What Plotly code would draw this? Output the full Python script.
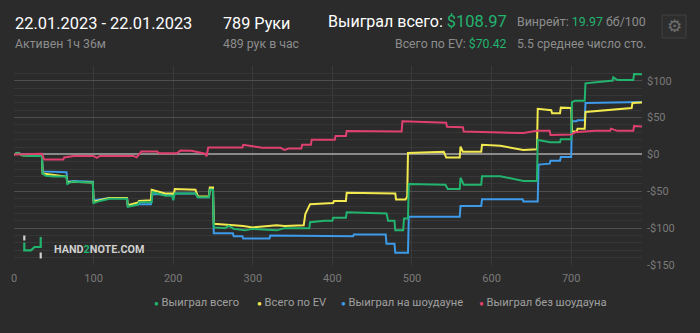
import plotly.graph_objects as go

# ---------------- data ----------------
hands_total = [0, 5, 10, 20, 35, 36, 40, 50, 66, 67, 73, 99, 100, 105, 120, 142, 143, 156, 157, 173,
               174, 190, 199, 200, 202, 228, 231, 245, 246, 250, 251, 265, 270, 276, 290, 300, 330, 340,
               371, 372, 390, 400, 401, 417, 418, 468, 470, 478, 479, 489, 490, 495, 496, 542, 545, 560,
               561, 565, 587, 588, 611, 640, 657, 658, 674, 686, 687, 700, 701, 705, 717, 718, 750, 752,
               753, 758, 778, 779, 789]
won_total = [0, 2, -1, -2, -2, -26, -29, -30, -30, -40, -37, -38, -66, -64, -60, -60, -71, -68, -65, -65,
             -51, -56, -56, -62, -53, -53, -58, -58, -48, -48, -99, -100, -97, -101, -103, -101, -103, -100,
             -100, -92, -90, -90, -86, -86, -78.5, -80, -90, -90, -103, -103, -87, -87, -40, -41, -47, -47,
             -31.6, -41, -41, -29.5, -29.5, -36, -36, 19.7, 16.5, 16.5, 20.6, 20.6, 71, 73, 73, 96.5, 100, 100,
             104.6, 101, 101, 109, 108.97]

hands_ev = [0, 5, 10, 35, 36, 66, 67, 73, 99, 100, 120, 142, 143, 156, 157, 172, 173, 190, 199, 200,
            202, 228, 231, 245, 246, 250, 251, 270, 276, 288, 300, 330, 340, 364, 366, 372, 401, 402, 417, 418,
            470, 479, 480, 492, 494, 495, 540, 543, 560, 561, 564, 587, 588, 611, 640, 657, 658, 675, 676, 686,
            687, 700, 701, 707, 708, 717, 718, 758, 776, 777, 789]
won_ev = [0, 2, -1, -2, -26, -30, -38, -37, -38, -64, -59, -59, -69, -65, -63, -62, -48, -53, -53, -58,
          -47, -48, -57, -57, -45, -45, -94, -95, -96, -97, -99, -96, -97, -96, -81, -67.5, -66, -63, -63, -52,
          -52, -53, -61, -61, -57, 2, 3.5, -4, -4, 10.7, 3.5, 3.5, 13, 11.7, 6, 7, 62, 60, 56, 56,
          63.5, 63, 31, 31, 35, 35, 57.6, 62, 63, 69.7, 70.42]

hands_sd = [0, 5, 10, 35, 36, 66, 67, 75, 99, 100, 120, 142, 143, 156, 172, 173, 199, 200, 201, 228,
            231, 245, 246, 250, 251, 275, 276, 287, 288, 321, 322, 367, 368, 426, 427, 467, 468, 478, 479, 495,
            496, 560, 561, 587, 588, 639, 640, 658, 659, 673, 674, 686, 687, 700, 701, 707, 708, 717, 718, 760,
            789]
won_sd = [0, 2, 0, 0, -23, -24, -37, -36, -37, -62, -59, -59, -70, -67.5, -67.5, -54, -54, -62, -53, -53,
          -58, -58, -47, -47, -107, -107, -111, -111, -114, -114, -110, -110, -111, -111, -108.5, -108.5, -121, -121, -133.5, -133.5,
          -84.5, -84.5, -70, -70, -60.7, -60.7, -64, -64, -13.8, -12.5, -8.5, -8.5, -3.5, -3.5, 45, 45, 46.4, 46.4, 69.7, 71,
          71]

hands_nsd = [0, 35, 38, 62, 63, 75, 100, 104, 108, 150, 154, 160, 180, 182, 205, 209, 223, 240, 242, 244,
             287, 288, 300, 312, 335, 340, 345, 361, 362, 373, 374, 403, 404, 417, 418, 487, 488, 523, 543, 544,
             564, 565, 611, 640, 657, 673, 674, 700, 705, 730, 749, 750, 758, 778, 779, 789]
won_nsd = [0, 1, -7, -7, -4, -2, -2, -4.5, -2, -2, -4, 4, 4, 1.5, 1.5, 5.4, 5, 1, -2.5, 9.4,
           9.4, 13, 11, 9, 9, 6, 8, 8, 13, 13, 20, 20, 25, 25, 31.7, 31, 45, 43.5, 43, 37.5,
           37, 31, 30, 29, 32, 32, 26.4, 27, 30, 32, 32, 35, 32, 32, 38.5, 38]

series_names = ["Выиграл всего", "Всего по EV", "Выиграл на шоудауне", "Выиграл без шоудауна"]
y_tickvals = [-150, -100, -50, 0, 50, 100]
y_ticktext = ["-$150", "-$100", "-$50", "$0", "$50", "$100"]
x_tickvals = [0, 100, 200, 300, 400, 500, 600, 700]

# ---------------- style ----------------
GREEN = "#22b46e"
YELLOW = "#f2e94e"
BLUE = "#3d9be9"
PINK = "#e0406f"
BG = "#2b2b2b"
GREY = "#8d8d8d"
FONT = "Roboto"

W, H = 700, 333
L, R, T, B = 14, 642, 66, 265


def px(x):
    return (x - L) / (R - L)


def py(y):
    return (B - y) / (B - T)


fig = go.Figure()
for hx, hy, col in [(hands_sd, won_sd, BLUE), (hands_ev, won_ev, YELLOW),
                    (hands_total, won_total, GREEN), (hands_nsd, won_nsd, PINK)]:
    fig.add_trace(go.Scatter(x=hx, y=hy, mode="lines", line=dict(color=col, width=2),
                             showlegend=False, hoverinfo="skip"))

fig.update_layout(
    width=W, height=H,
    margin=dict(l=L, r=W - R, t=T, b=H - B, pad=0),
    paper_bgcolor=BG, plot_bgcolor=BG,
    font=dict(family=FONT, color=GREY, size=11),
    showlegend=False,
)
fig.update_xaxes(range=[0, 789], tickmode="array", tickvals=x_tickvals,
                 showgrid=True, gridcolor="#3a3a3a", gridwidth=1, zeroline=False,
                 showline=False, ticks="", tickfont=dict(size=11, color="#7a7a7a"),
                 ticklabelstandoff=5)
fig.update_yaxes(range=[-150, 120], side="right", tickmode="array", tickvals=y_tickvals,
                 ticktext=y_ticktext, showgrid=True, gridcolor="#4e4e4e", gridwidth=1,
                 zeroline=True, zerolinecolor="#8a8a8a", zerolinewidth=1.5,
                 showline=False, ticks="", tickfont=dict(size=11, color="#7a7a7a"),
                 ticklabelstandoff=4,
                 minor=dict(tickmode="linear", tick0=0, dtick=10, showgrid=True,
                            gridcolor="#363636", gridwidth=1))

ann = []


def text(x, y, s, size, color="#ffffff", anchor="left"):
    ann.append(dict(x=px(x), y=py(y), xref="paper", yref="paper", text=s, showarrow=False,
                    xanchor=anchor, yanchor="middle",
                    font=dict(family=FONT, size=size, color=color)))


# header
text(13, 23, "22.01.2023 - 22.01.2023", 16.4)
text(13, 44, "Активен 1ч 36м", 12.3, GREY)
text(221, 23, "789 Руки", 16.2)
text(221, 44, "489 рук в час", 12.3, GREY)
text(509, 22, "Выиграл всего: <span style='color:%s;font-size:16.5px'>$108.97</span>" % GREEN, 16,
     anchor="right")
text(509, 44, "Всего по EV: <span style='color:%s'>$70.42</span>" % GREEN, 12.3, GREY, anchor="right")
text(515, 22, "Винрейт: <span style='color:%s'>19.97</span> бб/100" % GREEN, 12.4, GREY)
text(515, 44, "5.5 среднее число сто.", 12.2, GREY)

# gear button
ann.append(dict(x=px(674), y=py(26.5), xref="paper", yref="paper", text="⚙", showarrow=False,
                xanchor="center", yanchor="middle",
                font=dict(family="DejaVu Sans", size=17, color="#6e6e6e")))

# legend
leg_items = [(155, GREEN, series_names[0]), (258, YELLOW, series_names[1]),
             (342, BLUE, series_names[2]), (480, PINK, series_names[3])]
for x0, col, name in leg_items:
    ann.append(dict(x=px(x0 - 3), y=py(302), xref="paper", yref="paper",
                    text="<span style='color:%s;font-size:8px'>●</span> %s" % (col, name),
                    showarrow=False, xanchor="left", yanchor="middle",
                    font=dict(family=FONT, size=11.2, color="#a0a0a0")))

# logo text
ann.append(dict(x=px(52), y=py(249), xref="paper", yref="paper",
                text="<b>HAND<span style='color:%s'>2</span>NOTE.COM</b>" % GREEN,
                showarrow=False, xanchor="left", yanchor="middle",
                font=dict(family=FONT, size=10.8, color="#d0d0d0")))

fig.update_layout(annotations=ann)


def path(points):
    d = "M %f,%f " % (px(points[0][0]), py(points[0][1]))
    for p in points[1:]:
        d += "L %f,%f " % (px(p[0]), py(p[1]))
    return d


shapes = [
    # gear box
    dict(type="rect", xref="paper", yref="paper", x0=px(662), x1=px(686), y0=py(38), y1=py(15),
         line=dict(color="#404040", width=1), fillcolor="#2e2e2e", layer="below"),
    # logo icon
    dict(type="path", xref="paper", yref="paper", path=path([(24.3, 235.5), (24.3, 240.5)]),
         line=dict(color="#d0d0d0", width=2.2)),
    dict(type="path", xref="paper", yref="paper",
         path=path([(24.3, 242.5), (24.3, 250.3), (31, 250.3), (34.5, 247), (40.7, 247), (40.7, 237)]),
         line=dict(color=GREEN, width=2.2)),
    dict(type="path", xref="paper", yref="paper", path=path([(40.7, 252.5), (40.7, 258.5)]),
         line=dict(color="#d0d0d0", width=2.2)),
]
fig.update_layout(shapes=shapes)

fig.write_html("out.html")
